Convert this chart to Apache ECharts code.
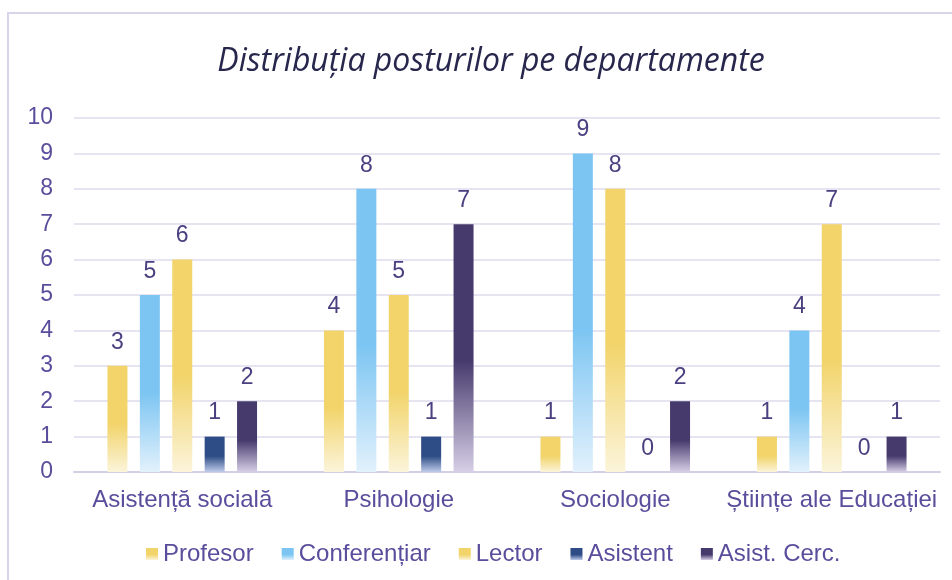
<!DOCTYPE html>
<html>
<head>
<meta charset="utf-8">
<script src="https://cdn.jsdelivr.net/npm/echarts@6/dist/echarts.min.js"></script>
<style>
  html, body { margin: 0; padding: 0; background: #fff; }
  #chart { width: 952px; height: 580px; }
</style>
</head>
<body>
<div id="chart"></div>
<script>
// departamente
const categories = ['Asistență socială', 'Psihologie', 'Sociologie', 'Științe ale Educației']
const seriesNames = ['Profesor', 'Conferențiar', 'Lector', 'Asistent', 'Asist. Cerc.']
const profesor = [3, 4, 1, 1]
const conferentiar = [5, 8, 9, 4]
const lector = [6, 5, 8, 7]
const asistent = [1, 1, 0, 0]
const asistCerc = [2, 7, 2, 1]
const yTicks = [0, 10, 1] // min, max, interval

const values = [profesor, conferentiar, lector, asistent, asistCerc]
// culoare plina sus, deschisa jos
const colorPairs = [
  ['#F2D46B', '#FBF4DA'],
  ['#7CC5F2', '#E2F1FC'],
  ['#F2D46B', '#FBF4DA'],
  ['#2E4C85', '#BFCBEA'],
  ['#463A6D', '#D6CFE6']
]

const grad = (c) => ({
  type: 'linear', x: 0, y: 0, x2: 0, y2: 1,
  colorStops: [
    { offset: 0, color: c[0] },
    { offset: 0.55, color: c[0] },
    { offset: 1, color: c[1] }
  ]
})

const chart = echarts.init(document.getElementById('chart'))
const labelColor = '#5A4E9C'
const font = 'Liberation Sans, Arial, sans-serif'

const options = {
  animation: false,
  title: {
    text: 'Distribuția posturilor pe departamente',
    left: 486,
    top: 41,
    textAlign: 'center',
    textStyle: {
      fontFamily: 'Open Sans, sans-serif',
      fontStyle: 'italic',
      fontWeight: 'normal',
      fontSize: 32,
      color: '#27264C'
    }
  },
  graphic: [{
    type: 'rect',
    shape: { x: 8, y: 13, width: 960, height: 600 },
    style: { fill: 'none', stroke: '#D8D5EA', lineWidth: 2 },
    silent: true
  }],
  grid: { left: 74, right: 12, top: 118, bottom: 108 },
  legend: {
    top: 537,
    left: 141,
    icon: 'rect',
    itemWidth: 12,
    itemHeight: 12,
    itemGap: 28,
    textStyle: { color: labelColor, fontSize: 24, fontFamily: font },
    data: seriesNames
  },
  xAxis: {
    type: 'category',
    data: categories,
    axisLine: { lineStyle: { color: '#D2CFE4', width: 2 } },
    axisTick: { show: false },
    axisLabel: { color: labelColor, fontSize: 24, margin: 16, interval: 0, fontFamily: font }
  },
  yAxis: {
    type: 'value',
    min: yTicks[0],
    max: yTicks[1],
    interval: yTicks[2],
    axisLine: { show: false },
    axisTick: { show: false },
    splitLine: { lineStyle: { color: '#E6E4F0', width: 2 } },
    axisLabel: { color: labelColor, fontSize: 23, margin: 21, fontFamily: font }
  },
  series: seriesNames.map((name, i) => ({
    name: name,
    type: 'bar',
    barWidth: 20,
    barGap: '62%',
    data: values[i],
    itemStyle: { color: grad(colorPairs[i]) },
    label: {
      show: true,
      position: 'top',
      distance: 12,
      color: '#4A4080',
      fontSize: 23,
      fontFamily: font
    }
  }))
}

chart.setOption(options)
</script>
</body>
</html>
